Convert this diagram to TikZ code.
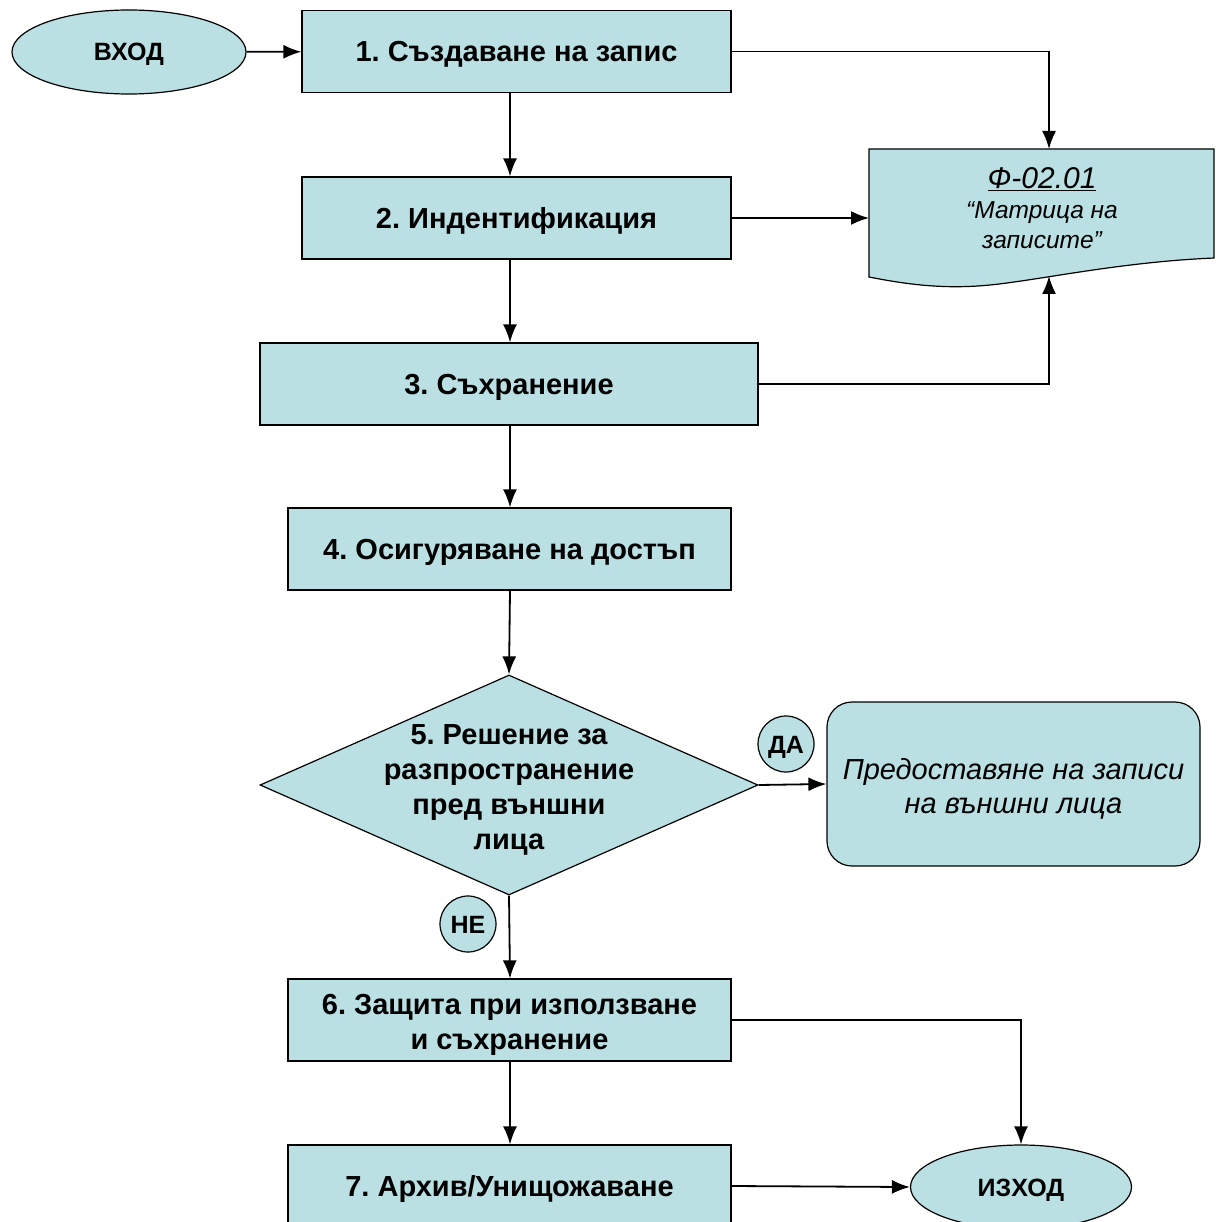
\documentclass[tikz,border=0pt]{standalone}
\usepackage{fontspec}
\setmainfont{Liberation Sans}
\frenchspacing
\usetikzlibrary{shapes.geometric,arrows.meta,positioning}
\definecolor{boxfill}{RGB}{187,224,227}
\tikzset{
	proc/.style={draw, fill=boxfill, line width=1.2pt, minimum height=82pt,
		font=\bfseries\fontsize{29}{35}\selectfont, align=center},
	oneline/.style={text height=21pt, text depth=0pt},
	term/.style={ellipse, draw, fill=boxfill, line width=1.2pt,
		font=\bfseries\fontsize{25}{28}\selectfont, text height=18pt, text depth=0pt},
	tag/.style={circle, draw, fill=boxfill, line width=1.2pt, minimum size=56pt,
		inner sep=0pt, font=\bfseries\fontsize{25}{26}\selectfont,
		text height=18pt, text depth=0pt},
	conn/.style={->, line width=1.8pt},
}
\begin{document}
\begin{tikzpicture}[x=1pt,y=-1pt,>={Latex[length=18pt,width=14pt]}]
	\useasboundingbox (0,0) rectangle (1215,1222);
	\coordinate (spine) at (510,0);
	
	% start, steps
	\node [term, minimum width=234pt, minimum height=84pt] (in) at (129,52) {ВХОД};
	\node [proc, oneline, minimum width=429pt] (s1) at (516.5,51.5) {1. Създаване на запис};
	\node [proc, oneline, minimum width=429pt] (s2) at (516.5,218) {2. Индентификация};
	\node [proc, oneline, minimum width=498pt] (s3) at (509,384) {3. Съхранение};
	\node [proc, oneline, minimum width=443pt] (s4) at (509.5,549) {4. Осигуряване на достъп};
	
	% decision
	\node [diamond, draw, fill=boxfill, line width=1.2pt, inner sep=0pt,
		minimum width=498pt, minimum height=220pt] (dec) at (509,785) {};
	\node [font=\bfseries\fontsize{29}{35}\selectfont, align=center] (dectext) at (509,790)
		{5. Решение за\\разпространение\\пред външни\\лица};
	\node [draw, fill=boxfill, line width=1.2pt, rounded corners=25pt,
		minimum width=373pt, minimum height=164pt] (give) at (1013.5,784) {};
	\node [align=center, font=\itshape\fontsize{29}{34}\selectfont] (givetext) at (1013.5,789)
		{Предоставяне на записи\\на външни лица};
	\node [tag] (yes) at (786,744) {ДА};
	\node [tag] (no) at (468,924) {НЕ};
	
	\node [proc, minimum width=443pt] (s6) at (509.5,1020) {};
	\node [align=center, font=\bfseries\fontsize{29}{35}\selectfont] (s6text) at (509.5,1024.5)
		{6. Защита при използване\\и съхранение};
	\node [proc, oneline, minimum width=443pt] (s7) at (509.5,1186) {7. Архив/Унищожаване};
	\node [term, minimum width=221pt, minimum height=84pt] (out) at (1021,1187) {ИЗХОД};
	
	% document
	\draw [line width=1.2pt, fill=boxfill] (869,149) -- (1214,149) -- (1214,258)
		.. controls (1120,262) and (1040,280) .. (990,285)
		.. controls (940,290) and (900,283) .. (869,277) -- cycle;
	\node [font=\itshape\fontsize{24.5}{30}\selectfont, align=center] (doc) at (1042,208.5)
		{{\fontsize{30}{30}\selectfont\underline{Ф-02.01}}\\“Матрица на\\записите”};
	\coordinate (doctop) at (1049,149);
	\coordinate (docleft) at (869,218);
	\coordinate (docbot) at (1049,276);
	
	% connectors
	\draw [conn] (in) -- (s1);
	\draw [conn] (s1.east) -| (doctop);
	\draw [conn] (s1.south -| spine) -- (s2.north -| spine);
	\draw [conn] (s2.east) -- (docleft);
	\draw [conn] (s2.south -| spine) -- (s3.north -| spine);
	\draw [conn] (s3.east) -| (docbot);
	\draw [conn] (s3.south -| spine) -- (s4.north -| spine);
	\draw [conn] (s4.south -| spine) -- (dec.north);
	\draw [conn] (dec.east) -- (give.west);
	\draw [conn] (dec.south) -- (s6.north -| spine);
	\draw [conn] (s6.east) -| (out.north);
	\draw [conn] (s6.south -| spine) -- (s7.north -| spine);
	\draw [conn] (s7.east) -- (out.west);
\end{tikzpicture}
\end{document}
